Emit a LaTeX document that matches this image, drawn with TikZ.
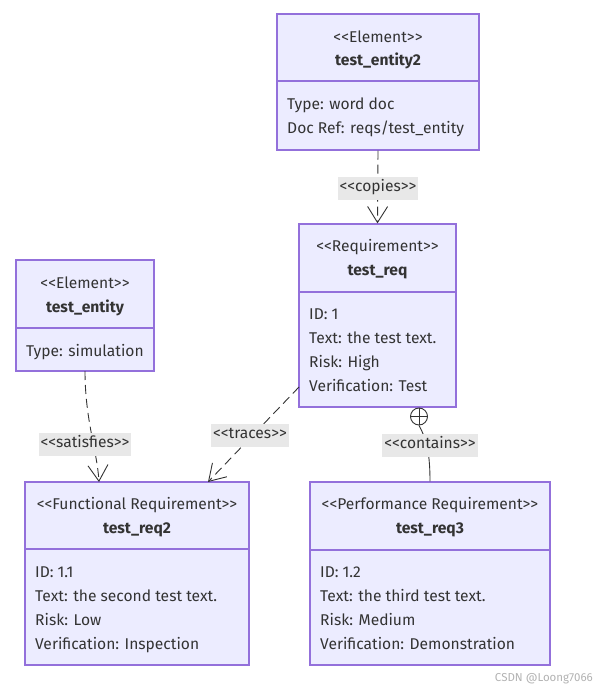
\documentclass[tikz,border=0pt]{standalone}
\usepackage{fontspec}
\setmainfont{Fira Sans}[Ligatures=TeXOff]
\usetikzlibrary{arrows.meta}
\definecolor{boxfill}{HTML}{ECECFF}
\definecolor{boxline}{HTML}{9370DB}
\definecolor{ink}{HTML}{333333}
\definecolor{lblbg}{HTML}{E8E8E8}
\tikzset{
  umlbox/.style={draw=boxline, fill=boxfill, line width=1.3pt, rectangle, inner sep=0pt},
  divider/.style={draw=boxline, line width=1.3pt},
  stereo/.style={text=ink, font=\fontsize{15.6}{18}\selectfont, anchor=base, inner sep=0pt},
  cname/.style={text=ink, font=\fontsize{15.6}{18}\selectfont\bfseries, anchor=base, inner sep=0pt},
  attr/.style={text=ink, font=\fontsize{15.6}{18}\selectfont, anchor=base west, inner sep=0pt},
  rel/.style={draw=ink, line width=0.9pt, dash pattern=on 9pt off 5pt},
  relarrow/.style={-{Straight Barb[length=16pt,width=20pt,line width=0.9pt]}},
  lbl/.style={fill=lblbg, text=ink, font=\fontsize{15.6}{18}\selectfont, inner xsep=2pt, inner ysep=0pt, text height=15pt, text depth=8pt},
}
\begin{document}
\begin{tikzpicture}[x=1pt,y=-1pt]
\useasboundingbox (0,0) rectangle (596,688);
% test_entity2
\node[umlbox, minimum width=202pt, minimum height=136pt] (e2) at (378,82) {};
\draw[divider] (e2.west |- 0,81) -- (e2.east |- 0,81);
\node[stereo] (e2s) at (378,42) {<<Element>>};
\node[cname] (e2n) at (378,65) {test\_entity2};
\node[attr] (e2a1) at (287,109) {Type: word doc};
\node[attr] (e2a2) at (287,133) {Doc Ref: reqs/test\_entity};
% test_req
\node[umlbox, minimum width=157pt, minimum height=183pt] (r1) at (377.5,315.5) {};
\draw[divider] (r1.west |- 0,292) -- (r1.east |- 0,292);
\node[stereo] (r1s) at (377.5,251) {<<Requirement>>};
\node[cname] (r1n) at (377.5,275) {test\_req};
\node[attr] (r1a1) at (309,319) {ID: 1};
\node[attr] (r1a2) at (309,343) {Text: the test text.};
\node[attr] (r1a3) at (309,367) {Risk: High};
\node[attr] (r1a4) at (309,391) {Verification: Test};
% test_entity
\node[umlbox, minimum width=138pt, minimum height=111pt] (e1) at (85,315.5) {};
\draw[divider] (e1.west |- 0,328) -- (e1.east |- 0,328);
\node[stereo] (e1s) at (85,288) {<<Element>>};
\node[cname] (e1n) at (85,312) {test\_entity};
\node[attr] (e1a1) at (26,356) {Type: simulation};
% test_req2
\node[umlbox, minimum width=224pt, minimum height=183pt] (r2) at (137,573.5) {};
\draw[divider] (r2.west |- 0,549) -- (r2.east |- 0,549);
\node[stereo] (r2s) at (137,509) {<<Functional Requirement>>};
\node[cname] (r2n) at (137,533) {test\_req2};
\node[attr] (r2a1) at (35,577) {ID: 1.1};
\node[attr] (r2a2) at (35,601) {Text: the second test text.};
\node[attr] (r2a3) at (35,625) {Risk: Low};
\node[attr] (r2a4) at (35,649) {Verification: Inspection};
% test_req3
\node[umlbox, minimum width=240pt, minimum height=183pt] (r3) at (430,573.5) {};
\draw[divider] (r3.west |- 0,550) -- (r3.east |- 0,550);
\node[stereo] (r3s) at (430,509) {<<Performance Requirement>>};
\node[cname] (r3n) at (430,533) {test\_req3};
\node[attr] (r3a1) at (320,577) {ID: 1.2};
\node[attr] (r3a2) at (320,601) {Text: the third test text.};
\node[attr] (r3a3) at (320,625) {Risk: Medium};
\node[attr] (r3a4) at (320,649) {Verification: Demonstration};
% connectors
\coordinate (c1s) at (e2.south);
\coordinate (c1e) at (r1.north);
\draw[rel, relarrow] (c1s) -- (c1e);
\node[lbl] (lcopies) at (378,188) {<<copies>>};

\coordinate (c2s) at (85,371);
\coordinate (c2e) at (99,482);
\draw[rel, relarrow] (c2s) .. controls (85,420) and (97,450) .. (c2e);
\node[lbl] (lsat) at (85,444) {<<satisfies>>};

\coordinate (c3s) at (299,387);
\coordinate (c3e) at (208,482);
\draw[rel, relarrow] (c3s) -- (c3e);
\node[lbl] (ltr) at (250,435) {<<traces>>};

\node[circle, draw=ink, line width=0.9pt, minimum size=17pt, inner sep=0pt] (cp) at (419,416.5) {};
\draw[ink, line width=0.9pt] (cp.north) -- (cp.south) (cp.west) -- (cp.east);
\draw[draw=ink, line width=0.9pt] (cp.south) .. controls (427,440) and (430,455) .. (r3.north);
\node[lbl] (lcont) at (430,445) {<<contains>>};

\node[text=black!30, font=\fontsize{11.5}{13}\selectfont, anchor=base east, inner sep=0pt] (wm) at (593,681) {CSDN @Loong7066};
\end{tikzpicture}
\end{document}
